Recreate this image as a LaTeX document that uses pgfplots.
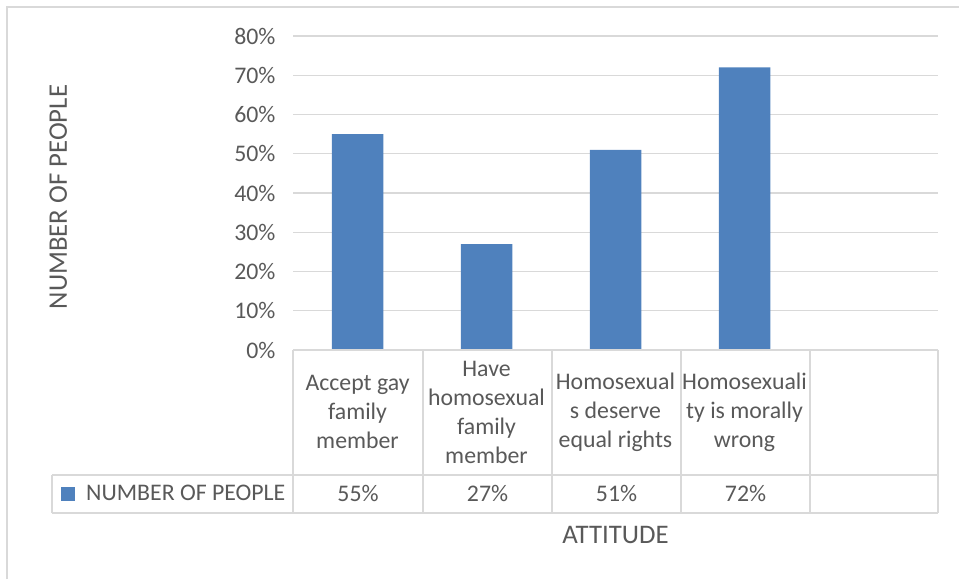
\documentclass[border=0pt]{standalone}
\usepackage{pgfplots}
\pgfplotsset{compat=1.18}
\usepackage{fontspec}
\setmainfont{Carlito}
\definecolor{barblue}{HTML}{4F81BD}
\definecolor{txt}{HTML}{595959}
\definecolor{gridc}{HTML}{D9D9D9}
\definecolor{framec}{HTML}{D9D9D9}
\newcommand{\cf}{\fontsize{23.8}{29}\selectfont}
\newcommand{\tf}{\fontsize{26.8}{32}\selectfont}
\begin{document}
\begin{tikzpicture}[x=1pt,y=1pt]
\useasboundingbox (0,0) rectangle (959,579);
\draw[framec, line width=1.2pt] (7,0) -- (7,572) -- (959,572);
\begin{axis}[
  at={(293pt,229pt)}, anchor=south west,
  scale only axis, width=645pt, height=314pt,
  xmin=-0.5, xmax=4.5, ymin=0, ymax=80,
  ytick={0,10,...,80},
  yticklabel={\pgfmathparse{int(round(\tick))}\pgfmathresult\%},
  yticklabel style={font=\cf, text=txt, anchor=east, xshift=-14pt},
  xtick={0,1,2,3},
  xticklabels={{Accept gay\\family\\member},{Have\\homosexual\\family\\member},{Homosexual\\s deserve\\equal rights},{Homosexuali\\ty is morally\\wrong}},
  xticklabel style={font=\cf, text=txt, align=center, anchor=center, yshift=-62pt, inner sep=0pt},
  axis line style={draw=none},
  major tick length=0pt,
  ymajorgrids,
  grid style={line width=1.2pt, gridc},
  clip=false,
]
\addplot[ybar, bar width=51.5pt, fill=barblue, draw=none] coordinates {(0,55) (1,27) (2,51) (3,72)};
\end{axis}
% data table
\begin{scope}[gridc, line width=1.2pt]
\draw (293,229) -- (938,229);
\draw (52,104) -- (938,104);
\draw (52,66) -- (938,66);
\draw (52,104) -- (52,66);
\foreach \x in {293,423,552,681,810,938} \draw (\x,229) -- (\x,66);
\end{scope}
\fill[barblue] (61,78) rectangle (75,92);
\node[font=\cf, text=txt, anchor=west, inner sep=0pt] at (86,86) {NUMBER OF PEOPLE};
\foreach \x/\v in {358/55,487.5/27,616.5/51,745.5/72}
  \node[font=\cf, text=txt, inner sep=0pt] at (\x,86) {\v\%};
\node[font=\tf, text=txt, rotate=90, inner sep=0pt] at (58.3,382) {NUMBER OF PEOPLE};
\node[font=\tf, text=txt, inner sep=0pt] at (615.5,44) {ATTITUDE};
\end{tikzpicture}
\end{document}
